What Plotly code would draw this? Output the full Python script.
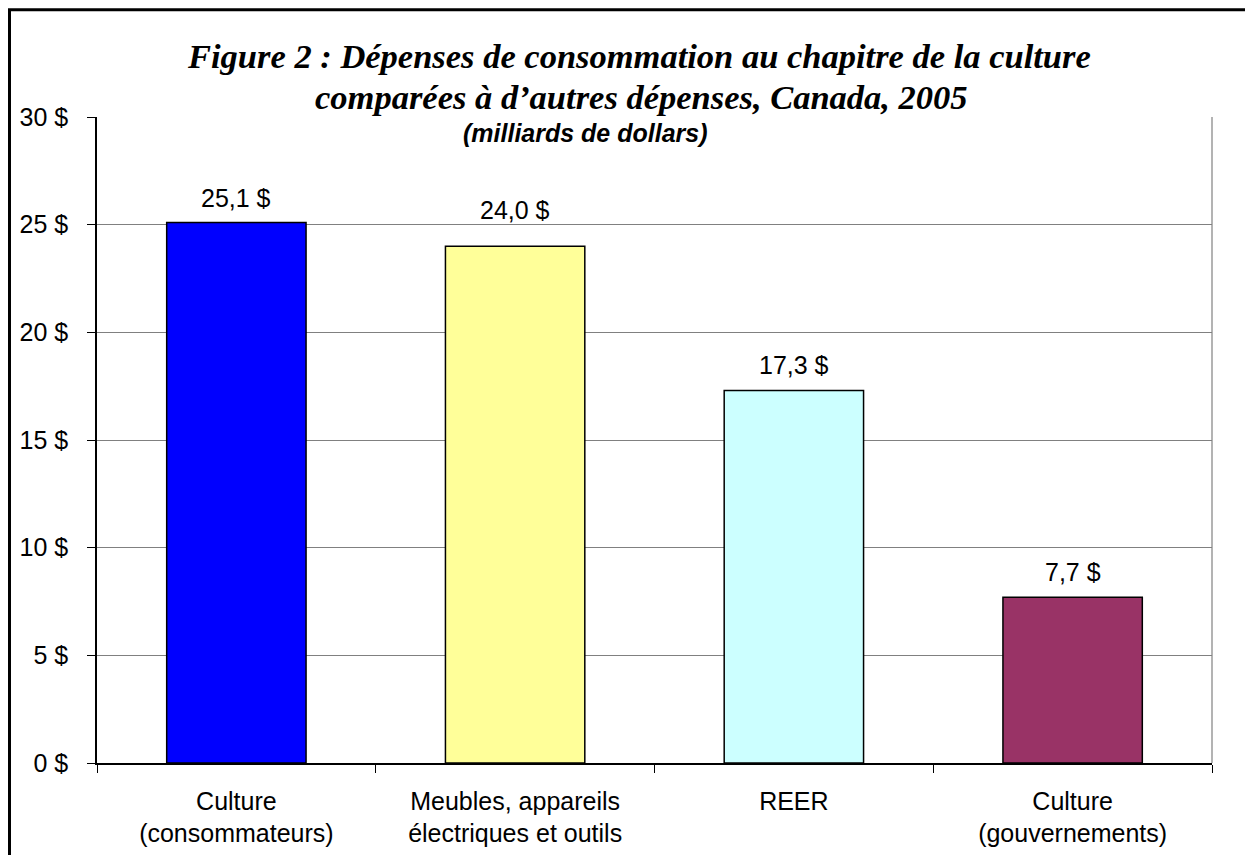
import plotly.graph_objects as go

categories = ["Culture<br>(consommateurs)", "Meubles, appareils<br>électriques et outils",
              "REER", "Culture<br>(gouvernements)"]
values = [25.1, 24.0, 17.3, 7.7]
bar_colors = ["#0000FF", "#FFFF99", "#CCFFFF", "#993366"]
label_shift = [25, 36, 25, 25]
y_ticks = [0, 5, 10, 15, 20, 25, 30]
y_ticktext = [f"{v} $" for v in y_ticks]

title_line1 = "Figure 2 : Dépenses de consommation au chapitre de la culture"
title_line2 = "comparées à d’autres dépenses, Canada, 2005"
subtitle = "(milliards de dollars)"

OFF = 8  # page body margin
W, H = 1253 - OFF, 855 - OFF
L = 97 - OFF
R = W - (1212 - OFF)
T = 117 - OFF
B = H - (763 - OFF)
pw, ph = W - L - R, H - T - B

def px_x(page_x):
    return (page_x - OFF - L) / pw

def px_y(page_y):
    return (H - B - (page_y - OFF)) / ph

SANS = "Arial, Liberation Sans, sans-serif"
SERIF = "Book Antiqua, Palatino Linotype, Liberation Serif, serif"

fig = go.Figure()
fig.add_trace(go.Bar(
    x=categories, y=values,
    marker=dict(color=bar_colors, line=dict(color="#000000", width=1.5)),
    hoverinfo="skip",
))

annotations = []
for c, v, s in zip(categories, values, label_shift):
    annotations.append(dict(
        x=c, y=v, xref="x", yref="y", text=f"{v:.1f}".replace(".", ",") + " $",
        showarrow=False, yanchor="middle", yshift=s,
        font=dict(family=SANS, size=25, color="#000000"),
    ))

annotations.append(dict(x=px_x(639), y=px_y(56), xref="paper", yref="paper",
                        text=f"<b><i>{title_line1}</i></b>", showarrow=False,
                        xanchor="center", yanchor="middle",
                        font=dict(family=SERIF, size=34.5, color="#000000")))
annotations.append(dict(x=px_x(641), y=px_y(97), xref="paper", yref="paper",
                        text=f"<b><i>{title_line2}</i></b>", showarrow=False,
                        xanchor="center", yanchor="middle",
                        font=dict(family=SERIF, size=34.5, color="#000000")))
annotations.append(dict(x=px_x(585), y=px_y(133), xref="paper", yref="paper",
                        text=f"<b><i>{subtitle}</i></b>", showarrow=False,
                        xanchor="center", yanchor="middle",
                        font=dict(family=SANS, size=25, color="#000000")))

shapes = [
    dict(type="line", xref="paper", yref="paper", x0=1, x1=1, y0=0, y1=1,
         line=dict(color="#808080", width=1.2), layer="above"),
    dict(type="rect", xref="paper", yref="paper",
         x0=px_x(9.5), x1=px_x(1400), y0=px_y(1000), y1=px_y(9.7),
         line=dict(color="#000000", width=3), fillcolor="rgba(0,0,0,0)", layer="above"),
]

fig.update_layout(
    width=W, height=H,
    margin=dict(l=L, r=R, t=T, b=B, pad=0, autoexpand=False),
    paper_bgcolor="#FFFFFF", plot_bgcolor="#FFFFFF",
    showlegend=False,
    bargap=0.5,
    annotations=annotations,
    shapes=shapes,
    xaxis=dict(
        type="category", tickson="boundaries", ticks="outside", ticklen=8,
        tickcolor="#000000", tickwidth=1.2,
        showline=True, linecolor="#000000", linewidth=1.5,
        showgrid=False, range=[-0.5, 3.5], automargin=False,
        tickfont=dict(family=SANS, size=25, color="#000000"),
        ticklabelstandoff=15,
    ),
    yaxis=dict(
        range=[0, 30], tickmode="array", tickvals=y_ticks, ticktext=y_ticktext,
        ticks="outside", ticklen=8, tickcolor="#000000", tickwidth=1.2,
        showline=True, linecolor="#000000", linewidth=1.5,
        showgrid=True, gridcolor="#808080", gridwidth=1.2,
        zeroline=False, automargin=False,
        tickfont=dict(family=SANS, size=25, color="#000000"),
        ticklabelstandoff=14,
    ),
)

fig.write_html("out.html")
